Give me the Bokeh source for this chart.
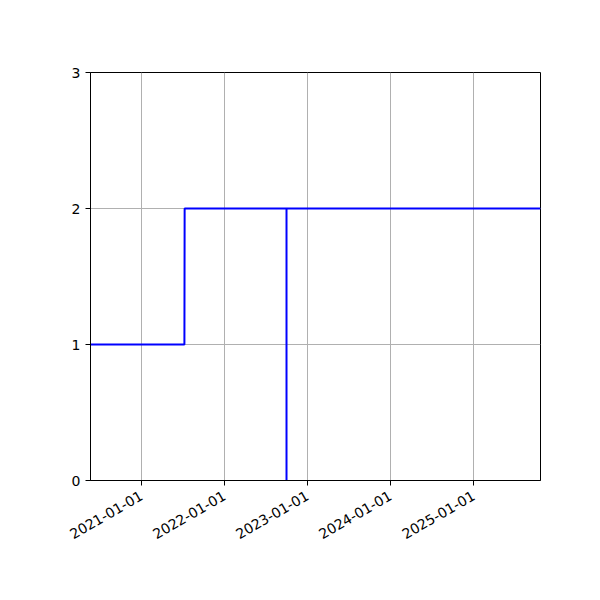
import math
from datetime import datetime
from bokeh.plotting import figure
from bokeh.models import Range1d, FixedTicker, DatetimeTickFormatter
from bokeh.embed import file_html
from bokeh.resources import INLINE

# data
dates = [
    datetime(2020, 5, 22),
    datetime(2021, 7, 9),
    datetime(2021, 7, 10),
    datetime(2022, 10, 1),
    datetime(2022, 10, 1),
    datetime(2022, 10, 1),
    datetime(2025, 10, 22),
]
values = [1, 1, 2, 2, 0, 2, 2]

x_tick_dates = [datetime(y, 1, 1) for y in [2021, 2022, 2023, 2024, 2025]]
y_ticks = [0, 1, 2, 3]

x_start = datetime(2020, 5, 22)
x_end = datetime(2025, 10, 22)

def ms(d):
    return (d - datetime(1970, 1, 1)).total_seconds() * 1000.0

p = figure(width=584, height=584, x_axis_type="datetime",
           output_backend="svg", toolbar_location=None,
           x_range=Range1d(ms(x_start), ms(x_end)), y_range=Range1d(0, 3),
           min_border_left=90, min_border_right=44, min_border_top=72, min_border_bottom=104)
p.background_fill_color = "white"
p.border_fill_color = "white"
p.outline_line_color = "black"
p.outline_line_width = 1

p.line([ms(d) for d in dates], values, line_color="#0000ff", line_width=2)

p.xaxis.ticker = FixedTicker(ticks=[ms(d) for d in x_tick_dates])
fmt = "%Y-%m-%d"
p.xaxis.formatter = DatetimeTickFormatter(milliseconds=fmt, seconds=fmt, minsec=fmt, minutes=fmt,
                                          hourmin=fmt, hours=fmt, days=fmt, months=fmt, years=fmt)
p.xaxis.major_label_orientation = math.pi / 6
p.yaxis.ticker = FixedTicker(ticks=y_ticks)

for ax in (p.xaxis, p.yaxis):
    ax.axis_line_color = "black"
    ax.axis_line_width = 1
    ax.major_tick_line_color = "black"
    ax.major_tick_out = 5
    ax.major_tick_in = 0
    ax.minor_tick_line_color = None
    ax.major_label_text_font = "DejaVu Sans"
    ax.major_label_text_font_size = "14px"
    ax.major_label_text_color = "black"
p.yaxis.major_label_standoff = 5
p.xaxis.major_label_standoff = 9

p.xgrid.grid_line_color = "#b0b0b0"
p.ygrid.grid_line_color = "#b0b0b0"
p.xgrid.grid_line_width = 1
p.ygrid.grid_line_width = 1

open("out.html", "w").write(file_html(p, INLINE))
